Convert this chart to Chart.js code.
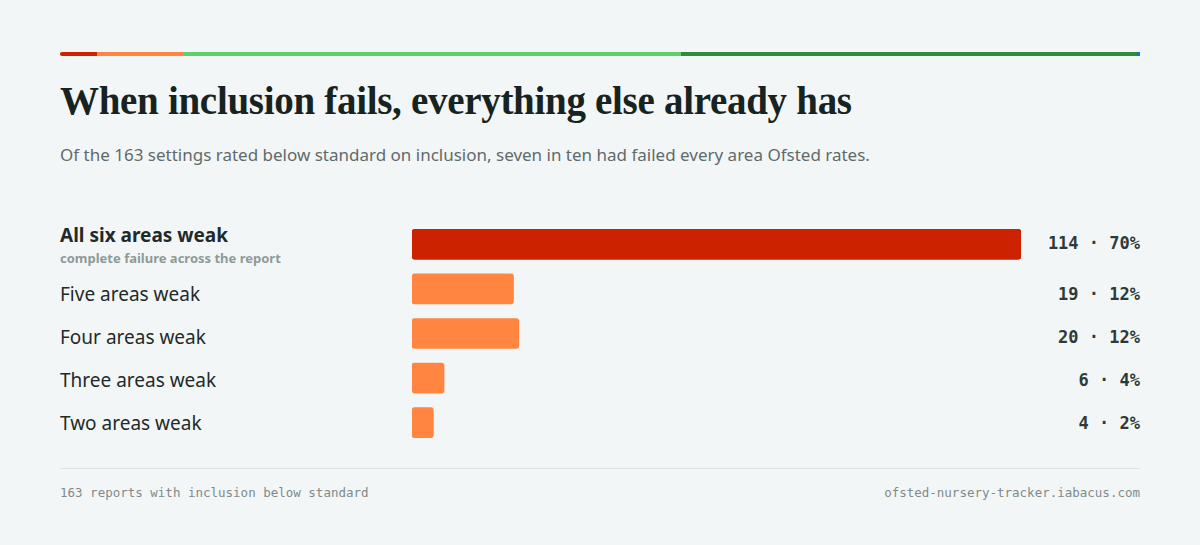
<!DOCTYPE html>
<html><head><meta charset="utf-8">
<script src="https://cdn.jsdelivr.net/npm/chart.js@4"></script>
<style>
body{margin:0;background:#f3f6f7;width:1200px;height:545px;position:relative;overflow:hidden;font-family:"Noto Sans",sans-serif}
.strip{position:absolute;top:52px;height:4px;}
h1{position:absolute;left:60px;top:78px;margin:0;font:600 39px "Liberation Serif",serif;color:#172321;letter-spacing:-0.3px}
.sub{position:absolute;left:60px;top:143px;font-size:17px;color:#5f6b6a}
.lab{position:absolute;left:60px;font-size:19px;color:#1f2a29;transform:translateY(-50%)}
.val{position:absolute;right:60px;font:bold 17px "DejaVu Sans Mono",monospace;color:#2e3a39;transform:translateY(-50%)}
.foot{position:absolute;top:485px;font:12.5px "DejaVu Sans Mono",monospace;color:#7f8b8a}
#wrap{position:absolute;left:412px;top:222px;width:609px;height:223px}
</style></head><body>
<div class="strip" style="left:60px;width:37px;background:#cc2200;border-radius:2px 0 0 2px"></div>
<div class="strip" style="left:97px;width:86px;background:#ff8540"></div>
<div class="strip" style="left:183px;width:498px;background:#5cd06a"></div>
<div class="strip" style="left:681px;width:456px;background:#2e8b3a"></div>
<div class="strip" style="left:1137px;width:3px;background:#1a6fd6"></div>
<h1>When inclusion fails, everything else already has</h1>
<div class="sub">Of the 163 settings rated below standard on inclusion, seven in ten had failed every area Ofsted rates.</div>
<div id="labels"></div>
<div id="wrap"><canvas id="c"></canvas></div>
<div style="position:absolute;left:60px;top:468px;width:1080px;height:1px;background:#dde2e3"></div>
<div class="foot" style="left:60px">163 reports with inclusion below standard</div>
<div class="foot" style="right:60px">ofsted-nursery-tracker.iabacus.com</div>
<script>
const categories=["All six areas weak","Five areas weak","Four areas weak","Three areas weak","Two areas weak"];
const counts=[114,19,20,6,4];
const shares=["70%","12%","12%","4%","2%"];
const subLabel="complete failure across the report";
const colors=["#cc2200","#ff8540","#ff8540","#ff8540","#ff8540"];
const rowY=[243,294,337,380,423];
const L=document.getElementById('labels');
categories.forEach((c,i)=>{
  const d=document.createElement('div');d.className='lab';
  if(i===0){d.style.top='244px';d.innerHTML='<div style="font-weight:700;font-size:19px">'+c+'</div><div style="font-size:13px;font-weight:700;color:#8e9a99;margin-top:1px">'+subLabel+'</div>';}
  else {d.style.top=rowY[i]+'px';d.textContent=c;}
  L.appendChild(d);
  const v=document.createElement('div');v.className='val';v.style.top=rowY[i]+'px';
  v.textContent=counts[i]+' · '+shares[i];L.appendChild(v);
});
new Chart(document.getElementById('c'),{type:'bar',
 data:{labels:categories,datasets:[{data:counts,backgroundColor:colors,borderRadius:3,borderSkipped:false,barThickness:30}]},
 options:{indexAxis:'y',responsive:true,maintainAspectRatio:false,animation:false,
  layout:{padding:0},
  plugins:{legend:{display:false},tooltip:{enabled:false}},
  scales:{x:{display:false,min:0,max:114},y:{display:false}}}});
</script></body></html>
